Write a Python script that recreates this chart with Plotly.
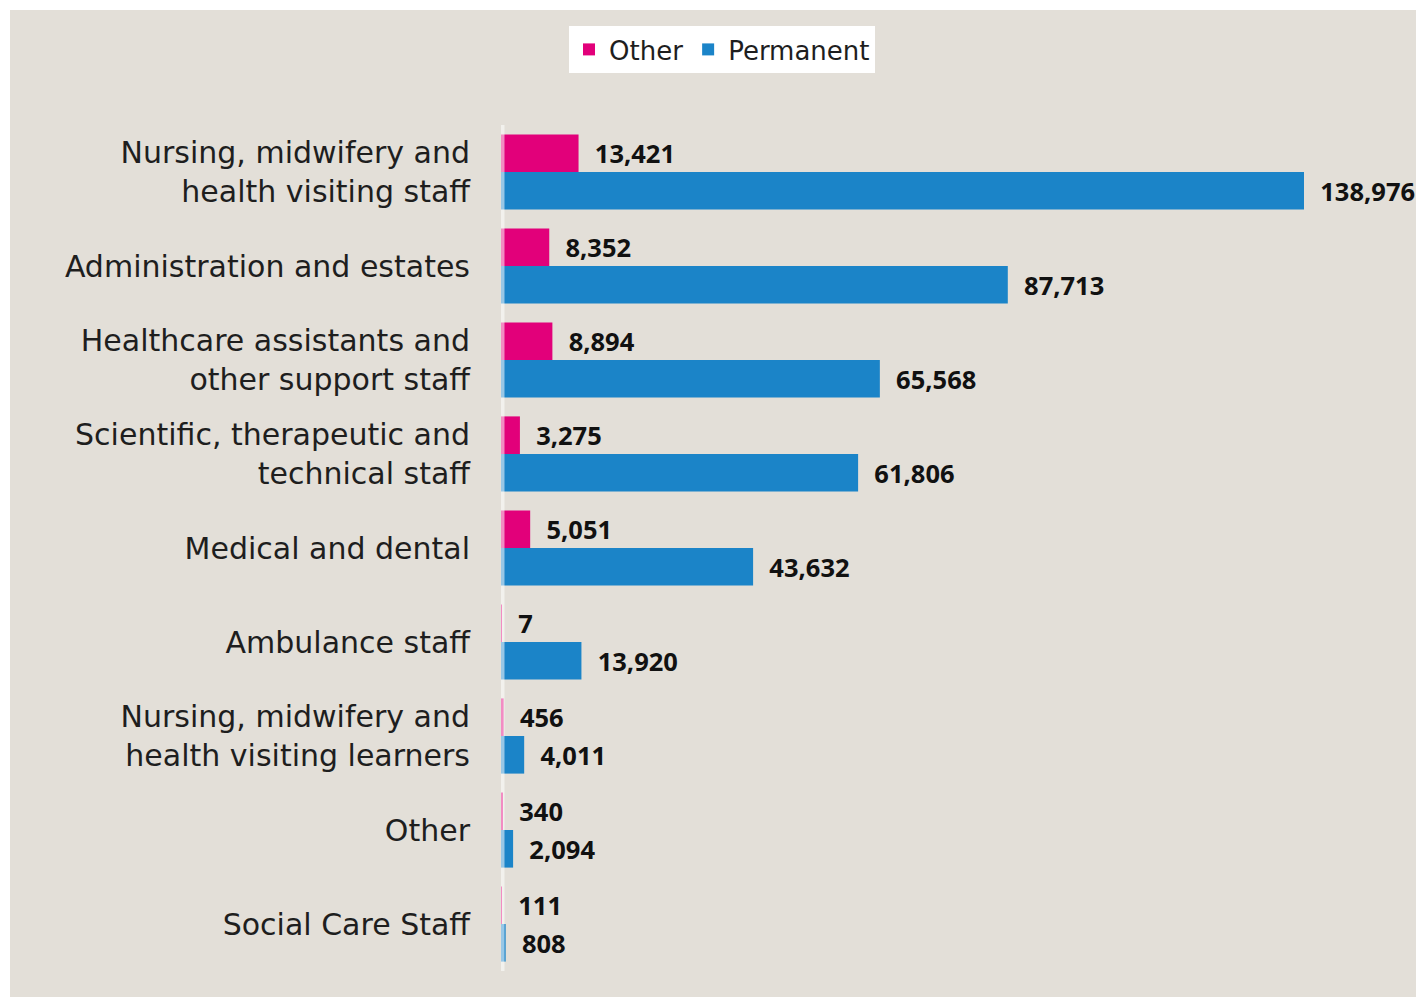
import plotly.graph_objects as go

categories = [
    "Nursing, midwifery and<br>health visiting staff",
    "Administration and estates",
    "Healthcare assistants and<br>other support staff",
    "Scientific, therapeutic and<br>technical staff",
    "Medical and dental",
    "Ambulance staff",
    "Nursing, midwifery and<br>health visiting learners",
    "Other",
    "Social Care Staff",
]
other_values = [13421, 8352, 8894, 3275, 5051, 7, 456, 340, 111]
permanent_values = [138976, 87713, 65568, 61806, 43632, 13920, 4011, 2094, 808]

BEIGE = "#e3dfd8"
PINK = "#e2007a"
BLUE = "#1b84c8"
PAD = "\u00a0" * 2
CAT_FONT = "DejaVu Sans"

W, H = 1416, 998
L, R, T, B = 501, 15, 125, 27
plot_w = W - L - R
plot_h = H - T - B
scale = (1304 - 501) / 138976
xmax = plot_w / scale

def fmt(v):
    return PAD + f"{v:,}"

label_font = dict(family="Noto Sans", size=25.5, color="#111111", weight="bold")

fig = go.Figure()
fig.add_trace(go.Bar(
    name="Other", y=categories, x=other_values, orientation="h",
    marker=dict(color=PINK, line=dict(width=0)),
    text=[fmt(v) for v in other_values], textposition="outside",
    textfont=label_font, cliponaxis=False, constraintext="none",
))
fig.add_trace(go.Bar(
    name="Permanent", y=categories, x=permanent_values, orientation="h",
    marker=dict(color=BLUE, line=dict(width=0)),
    text=[fmt(v) for v in permanent_values], textposition="outside",
    textfont=label_font, cliponaxis=False, constraintext="none",
))

def px_to_paper_x(px):
    return (px - L) / plot_w

def px_to_paper_y(py):
    return (H - B - py) / plot_h

fig.update_layout(
    width=W, height=H,
    margin=dict(l=L, r=R, t=T, b=B, pad=0),
    paper_bgcolor="white",
    plot_bgcolor=BEIGE,
    barmode="group", bargap=0.2, bargroupgap=0,
    font=dict(family=CAT_FONT, size=30, color="#1e1e1e"),
    showlegend=True,
    legend=dict(
        orientation="h", x=px_to_paper_x(722), xanchor="center",
        y=px_to_paper_y(26), yanchor="top",
        bgcolor="white", borderwidth=0,
        font=dict(family=CAT_FONT, size=26, color="#1e1e1e"),
        traceorder="normal", itemwidth=30,
    ),
    xaxis=dict(range=[0, xmax], visible=False, showgrid=False, zeroline=False),
    yaxis=dict(
        type="category", categoryorder="array", categoryarray=categories,
        range=[len(categories) - 0.5, -0.5],
        showgrid=False, zeroline=False, showline=False, ticks="",
        ticklabelstandoff=30,
        tickfont=dict(family=CAT_FONT, size=30, color="#1e1e1e"),
    ),
    shapes=[
        dict(type="rect", xref="paper", yref="paper",
             x0=px_to_paper_x(10), x1=px_to_paper_x(1420),
             y0=px_to_paper_y(997), y1=px_to_paper_y(10),
             fillcolor=BEIGE, line=dict(width=0), layer="below"),
        dict(type="line", xref="x", yref="paper", x0=0, x1=0, y0=0, y1=1,
             line=dict(color="rgba(255,255,255,0.55)", width=7), layer="above"),
    ],
)

fig.write_html("out.html", config={"displayModeBar": False},
               post_script="document.body.style.margin='0';")
